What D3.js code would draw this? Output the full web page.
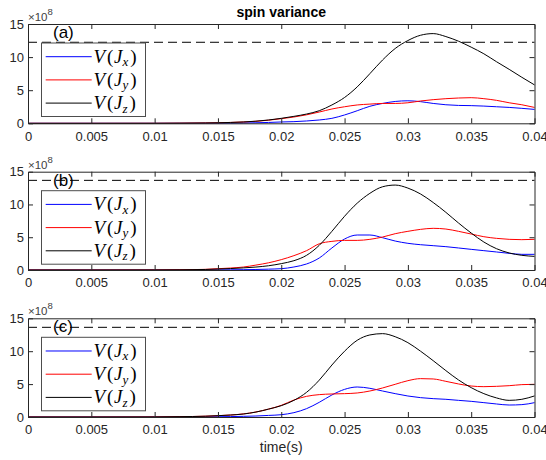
<!DOCTYPE html>
<html>
<head>
<meta charset="utf-8">
<script src="https://cdn.jsdelivr.net/npm/d3@7"></script>
<style>
  body { margin: 0; background: #fff; }
  svg { display: block; }
</style>
</head>
<body>
<div id="chart"></div>
<script>
// spin variance, three stacked panels, values in units of 1e8

const time = [0, 0.005, 0.010, 0.012, 0.014,
  0.015, 0.016, 0.017, 0.018, 0.019, 0.020, 0.021, 0.022, 0.023, 0.024, 0.025,
  0.026, 0.027, 0.028, 0.029, 0.030, 0.031, 0.032, 0.033, 0.034, 0.035,
  0.036, 0.037, 0.038, 0.039, 0.040];

// panel (a)
const jxA = [0, 0, 0, 0.005, 0.01, 0.02, 0.03, 0.05, 0.08, 0.13, 0.2, 0.25, 0.35, 0.5, 0.75, 1.26,
  1.9, 2.57, 3.0, 3.3, 3.4, 3.27, 3.0, 2.8, 2.7, 2.67, 2.6, 2.5, 2.4, 2.26, 2.1];
const jyA = [0, 0, 0.005, 0.02, 0.05, 0.08, 0.13, 0.2, 0.3, 0.47, 0.7, 0.95, 1.28, 1.7, 2.16, 2.5,
  2.77, 2.9, 3.0, 3.0, 3.1, 3.37, 3.57, 3.72, 3.82, 3.87, 3.72, 3.47, 3.1, 2.8, 2.4];
const jzA = [0, 0, 0.005, 0.02, 0.05, 0.08, 0.13, 0.2, 0.32, 0.5, 0.75, 1.05, 1.4, 1.9, 2.77, 3.9,
  5.5, 7.5, 9.56, 11.3, 12.5, 13.3, 13.55, 13.1, 12.4, 11.5, 10.5, 9.3, 8.15, 6.95, 5.8];

// panel (b)
const jxB = [0, 0, 0, 0.005, 0.01, 0.02, 0.03, 0.05, 0.08, 0.13, 0.2, 0.46, 0.92, 1.83, 3.36, 4.73,
  5.34, 5.34, 4.93, 4.42, 4.07, 3.86, 3.71, 3.56, 3.36, 3.15, 2.95, 2.75, 2.54, 2.39, 2.39];
const jyB = [0, 0, 0.01, 0.04, 0.1, 0.2, 0.3, 0.45, 0.75, 1.1, 1.58, 2.19, 2.95, 4.0, 4.37, 4.52,
  4.52, 4.68, 5.03, 5.54, 5.9, 6.2, 6.36, 6.25, 5.9, 5.49, 5.08, 4.83, 4.68, 4.63, 4.68];
const jzB = [0, 0, 0.01, 0.03, 0.08, 0.15, 0.22, 0.32, 0.45, 0.65, 0.97, 1.42, 2.24, 3.76, 5.9, 8.2,
  10.2, 11.7, 12.7, 12.96, 12.5, 11.6, 10.3, 8.8, 7.17, 5.64, 4.27, 3.25, 2.6, 2.24, 2.08];

// panel (c)
const jxC = [0, 0, 0, 0.01, 0.02, 0.04, 0.06, 0.1, 0.15, 0.24, 0.35, 0.66, 1.27, 2.23, 3.35, 4.2,
  4.56, 4.36, 3.95, 3.55, 3.19, 2.94, 2.79, 2.69, 2.53, 2.38, 2.18, 1.98, 1.82, 1.88, 2.18];
const jyC = [0, 0, 0.01, 0.05, 0.12, 0.2, 0.3, 0.47, 0.76, 1.2, 1.77, 2.58, 3.14, 3.4, 3.5, 3.55,
  3.65, 3.95, 4.41, 4.97, 5.52, 5.83, 5.78, 5.42, 5.02, 4.71, 4.61, 4.66, 4.76, 4.92, 4.97];
const jzC = [0, 0, 0.01, 0.05, 0.12, 0.2, 0.3, 0.45, 0.75, 1.2, 1.72, 2.53, 3.75, 5.6, 7.9, 10.0,
  11.66, 12.47, 12.67, 12.2, 11.3, 10.0, 8.56, 7.05, 5.63, 4.46, 3.55, 2.9, 2.53, 2.69, 3.2];

const dashLevels = [12.24, 13.68, 13.63];
const panelLabels = ['(a)', '(b)', '(c)'];
const seriesNames = ['x', 'y', 'z'];
const xTicks = [0, 0.005, 0.01, 0.015, 0.02, 0.025, 0.03, 0.035, 0.04];
const xTickLabels = ['0', '0.005', '0.01', '0.015', '0.02', '0.025', '0.03', '0.035', '0.04'];
const yTicks = [0, 5, 10, 15];

const panels = [
  { series: [jxA, jyA, jzA], top: 24, bottom: 123.3 },
  { series: [jxB, jyB, jzB], top: 171.7, bottom: 270 },
  { series: [jxC, jyC, jzC], top: 318.3, bottom: 417 }
];

const colors = ['#0000ff', '#ff0000', '#000000'];
const axisColor = '#262626';
const fontSans = '"Liberation Sans", Arial, Helvetica, sans-serif';
const fontSerif = '"Liberation Serif", "Times New Roman", serif';

const width = 546, height = 460;
const left = 28, right = 534.5;

const svg = d3.select('#chart').append('svg')
  .attr('width', width)
  .attr('height', height);

const x = d3.scaleLinear().domain([0, 0.04]).range([left, right]);

// Title
svg.append('text')
  .attr('x', (left + right) / 2)
  .attr('y', 17)
  .attr('text-anchor', 'middle')
  .attr('font-family', fontSans)
  .attr('font-size', '14px')
  .attr('font-weight', 'bold')
  .attr('fill', '#000')
  .text('spin variance');

panels.forEach((p, i) => {
  const y = d3.scaleLinear().domain([0, 15]).range([p.bottom, p.top]);
  const g = svg.append('g');

  // curves
  const line = d3.line()
    .x((d, k) => x(time[k]))
    .y(d => y(d))
    .curve(d3.curveMonotoneX);

  p.series.forEach((s, k) => {
    g.append('path')
      .datum(s)
      .attr('fill', 'none')
      .attr('stroke', colors[k])
      .attr('stroke-width', 1)
      .attr('d', line);
  });

  // dashed reference level
  g.append('line')
    .attr('x1', x(0)).attr('x2', x(0.04))
    .attr('y1', y(dashLevels[i])).attr('y2', y(dashLevels[i]))
    .attr('stroke', '#000')
    .attr('stroke-width', 1)
    .attr('stroke-dasharray', '9,5');

  // axes (ticks inside, box on)
  const tickLen = 5;
  const axB = g.append('g').attr('transform', `translate(0,${p.bottom})`)
    .call(d3.axisBottom(x).tickValues(xTicks).tickSize(-tickLen).tickPadding(8)
      .tickFormat((d, k) => xTickLabels[k]));
  const axT = g.append('g').attr('transform', `translate(0,${p.top})`)
    .call(d3.axisTop(x).tickValues(xTicks).tickSize(-tickLen).tickFormat(''));
  const axL = g.append('g').attr('transform', `translate(${left},0)`)
    .call(d3.axisLeft(y).tickValues(yTicks).tickSize(-tickLen).tickPadding(4));
  const axR = g.append('g').attr('transform', `translate(${right},0)`)
    .call(d3.axisRight(y).tickValues(yTicks).tickSize(-tickLen).tickFormat(''));

  [axB, axT, axL, axR].forEach(ax => {
    ax.select('.domain').attr('stroke', axisColor).attr('stroke-width', 1);
    ax.selectAll('.tick line').attr('stroke', axisColor);
    ax.selectAll('.tick text')
      .attr('fill', axisColor)
      .attr('font-family', fontSans)
      .attr('font-size', '13px');
  });
  // hide ticks at axis ends on the box
  axT.selectAll('.tick').filter(d => d === 0 || d === 0.04).select('line').remove();
  axB.selectAll('.tick').filter(d => d === 0 || d === 0.04).select('line').remove();
  axL.selectAll('.tick').filter(d => d === 0 || d === 15).select('line').remove();
  axR.selectAll('.tick').filter(d => d === 0 || d === 15).select('line').remove();

  // exponent label
  const ex = g.append('text')
    .attr('x', 28)
    .attr('y', p.top - 3)
    .attr('font-family', fontSans)
    .attr('font-size', '11.5px')
    .attr('fill', '#404040');
  ex.append('tspan').text('\u00d710');
  ex.append('tspan').attr('dy', -6).attr('font-size', '9.5px').text('8');

  // panel label
  g.append('text')
    .attr('x', 53)
    .attr('y', p.top + 14)
    .attr('font-family', fontSans)
    .attr('font-size', '17px')
    .attr('fill', '#000')
    .text(panelLabels[i]);

  // legend
  const lgTop = p.top + 18.5;
  const lg = g.append('g').attr('transform', `translate(41,${lgTop})`);
  lg.append('rect')
    .attr('x', 0.5).attr('y', 0.5)
    .attr('width', 104).attr('height', 73.5)
    .attr('fill', '#fff')
    .attr('stroke', '#4d4d4d')
    .attr('stroke-width', 1);

  seriesNames.forEach((nm, k) => {
    const cy = 14.2 + k * 23.2;
    lg.append('line')
      .attr('x1', 4.7).attr('x2', 50.7)
      .attr('y1', cy).attr('y2', cy)
      .attr('stroke', colors[k])
      .attr('stroke-width', 1);
    const t = lg.append('text')
      .attr('x', 52.5)
      .attr('y', cy + 6)
      .attr('font-family', fontSerif)
      .attr('font-size', '19px')
      .attr('fill', '#000');
    t.append('tspan').attr('font-style', 'italic').text('V');
    t.append('tspan').attr('dx', 2).text('(');
    t.append('tspan').attr('dx', 0.5).attr('font-style', 'italic').text('J');
    t.append('tspan').attr('font-style', 'italic').attr('font-size', '13px')
      .attr('dy', 3.5).text(nm);
    t.append('tspan').attr('dy', -3.5).attr('dx', 2).text(')');
  });
});

// x label
svg.append('text')
  .attr('x', (left + right) / 2)
  .attr('y', 452)
  .attr('text-anchor', 'middle')
  .attr('font-family', fontSans)
  .attr('font-size', '14px')
  .attr('fill', axisColor)
  .text('time(s)');
</script>
</body>
</html>
